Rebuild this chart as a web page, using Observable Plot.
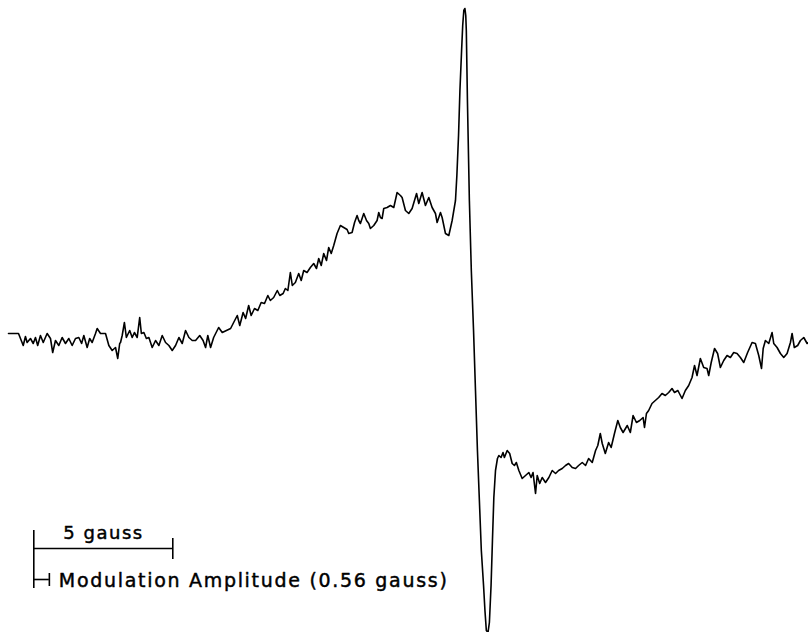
<!DOCTYPE html>
<html>
<head>
<meta charset="utf-8">
<script src="https://cdn.jsdelivr.net/npm/d3@7"></script>
<script src="https://cdn.jsdelivr.net/npm/@observablehq/plot@0.6"></script>
<style>
  html, body { margin: 0; padding: 0; background: #fff; overflow: hidden; }
  #chart svg { display: block; }
</style>
</head>
<body>
<div id="chart"></div>
<script>
// Magnetic field offset (gauss) from the left edge of the sweep
const field = [
  // flat baseline
  0.00, 0.36, 0.53, 0.61, 0.67, 0.79, 0.89, 0.97, 1.05, 1.15,
  1.25, 1.39, 1.51, 1.59, 1.69, 1.81, 1.93, 2.05, 2.17, 2.29,
  2.41, 2.53, 2.63, 2.71, 2.83, 2.92, 3.01, 3.13, 3.19, 3.31,
  3.49, 3.61, 3.73, 3.85, 3.93, 4.00,
  4.03, 4.09, 4.17, 4.24, 4.36, 4.45, 4.53, 4.63, 4.72, 4.78,
  4.87, 4.96, 5.05, 5.17, 5.29, 5.41, 5.53, 5.65, 5.77, 5.89,
  6.01, 6.13, 6.25, 6.37, 6.49, 6.61, 6.73, 6.88, 7.00, 7.09,
  7.17, 7.27, 7.38, 7.56, 7.69, 7.84,
  // broad rise
  7.99, 8.10, 8.23, 8.32, 8.44, 8.53, 8.64, 8.73, 8.85, 8.97,
  9.09, 9.21, 9.33, 9.42, 9.54, 9.67, 9.76, 9.88, 9.96, 10.05,
  10.14, 10.21, 10.32, 10.44, 10.53, 10.62, 10.74, 10.86, 10.98, 11.08,
  11.16, 11.25, 11.34, 11.44, 11.52, 11.61, 11.70, 11.82,
  // broad maximum
  11.94, 12.06, 12.18, 12.24, 12.36, 12.45, 12.54, 12.60, 12.66, 12.78,
  12.88, 12.96, 13.02, 13.14, 13.26, 13.32, 13.38, 13.44, 13.50, 13.62,
  13.74, 13.86, 13.98, 14.10, 14.16, 14.28, 14.40, 14.52, 14.68, 14.76,
  14.88, 15.00, 15.12, 15.24, 15.36, 15.42, 15.54, 15.60, 15.72, 15.84,
  15.96, 16.08,
  // narrow line
  16.13, 16.19, 16.24, 16.30, 16.34, 16.38, 16.42, 16.45, 16.47, 16.51,
  16.58, 16.65, 16.73, 16.80, 16.87, 16.94, 17.01, 17.09, 17.14, 17.19,
  17.25, 17.30, 17.36, 17.41, 17.46, 17.52, 17.59,
  // broad minimum and recovery
  17.64, 17.72, 17.79, 17.84, 17.94, 18.03, 18.12, 18.20, 18.27, 18.36,
  18.48, 18.60, 18.72, 18.80, 18.87, 18.96, 19.02, 19.11, 19.20, 19.32,
  19.44, 19.56, 19.68, 19.79, 19.92, 20.04, 20.15, 20.28, 20.40, 20.51,
  20.64, 20.76, 20.87, 21.00, 21.12, 21.20, 21.29, 21.36, 21.47, 21.59,
  21.68, 21.80, 21.92, 22.01, 22.11, 22.26, 22.37, 22.47, 22.59, 22.71,
  22.83, 22.88, 22.95,
  23.03, 23.15, 23.27, 23.39, 23.51, 23.63, 23.75, 23.87, 23.96, 24.08,
  24.23, 24.35, 24.47, 24.59, 24.68, 24.77, 24.89, 25.01, 25.13, 25.19,
  25.28, 25.40, 25.51, 25.61, 25.73, 25.85, 25.97, 26.09, 26.21, 26.33,
  26.45, 26.59, 26.75, 26.87, 26.99, 27.09, 27.15, 27.23, 27.35, 27.47,
  27.53, 27.65, 27.77, 27.89, 28.01, 28.13, 28.19, 28.27, 28.39, 28.49,
  28.61, 28.73, 28.78
];

// First-derivative EPR signal (arbitrary units)
const signal = [
  7, 7, -5, 4, -2, 2, -3, 3, -5, 5,
  -2, 7, 2, -12, 0, -5, 3, -3, 2, -5,
  2, 3, -3, 5, -7, 2, -2, 7, 12, 7,
  7, -5, -10, -7, -18, -3,
  -2, 5, 18, 3, 10, 3, 8, 3, 23, 7,
  8, 2, 3, -7, 0, -5, 5, -2, -5, -10,
  -5, 3, -3, 10, 3, 0, 0, 5, 0, -7,
  5, -7, 3, 13, 8, 10,
  12, 18, 25, 15, 28, 22, 35, 25, 32, 30,
  38, 37, 45, 40, 43, 50, 45, 47, 52, 50,
  68, 55, 58, 67, 60, 70, 68, 73, 77, 72,
  82, 75, 87, 80, 93, 87, 95, 107,
  115, 113, 111, 107, 108, 118, 125, 120, 117, 127,
  120, 117, 112, 115, 120, 128, 123, 122, 132, 133,
  135, 133, 148, 145, 143, 130, 127, 132, 147, 137,
  148, 135, 143, 133, 127, 118, 128, 123, 107, 105,
  120, 140,
  165, 205, 250, 290, 315, 330, 332, 325, 310, 240,
  140, 70, 10, -50, -110, -160, -210, -245, -270, -290,
  -292, -282, -245, -200, -157, -130, -118,
  -115, -117, -112, -117, -110, -113, -123, -125, -122, -130,
  -138, -135, -132, -137, -132, -153, -135, -143, -137, -142,
  -137, -130, -133, -130, -128, -125, -123, -127, -128, -125,
  -122, -125, -118, -122, -110, -105, -93, -103, -113, -102,
  -107, -93, -80, -87, -92, -85, -92, -75, -82, -80,
  -77, -87, -73,
  -70, -63, -60, -57, -53, -55, -52, -48, -52, -50,
  -58, -50, -45, -37, -25, -35, -18, -27, -28, -35,
  -22, -8, -13, -27, -20, -15, -17, -12, -13, -17,
  -22, -12, -2, -3, -15, -28, -8, 0, -3, 8,
  -3, -7, -13, -17, -13, -2, 7, -7, -5, 0,
  3, -3, -2
];

// Scale-bar annotations
const scaleBarGauss = 5;
const modulationGauss = 0.56;
const scaleLabel = "5 gauss";
const modulationLabel = "Modulation Amplitude (0.56 gauss)";

const trace = field.map((f, i) => ({field: f, signal: signal[i]}));

const barStart = 0.91;      // gauss, left end of both bars
const barY = -208;          // signal units of the 5 gauss bar
const modY = -239;          // signal units of modulation bar

const textStyle = {textAnchor: "start", fontFamily: "DejaVu Sans", fill: "#000", stroke: "#000", strokeWidth: 0.45};

const plot = Plot.plot({
  width: 808,
  height: 632,
  marginLeft: 8,
  marginRight: 0,
  marginTop: 0,
  marginBottom: 0,
  x: {domain: [0, 28.78], axis: null},
  y: {domain: [-292, 340], axis: null},
  style: {background: "#fff"},
  marks: [
    Plot.line(trace, {x: "field", y: "signal", stroke: "#000", strokeWidth: 1.6, strokeLinejoin: "round"}),
    // 5 gauss scale bar
    Plot.ruleX([barStart], {y1: -190, y2: -248, stroke: "#000", strokeWidth: 1.6}),
    Plot.ruleY([barY], {x1: barStart, x2: barStart + scaleBarGauss, stroke: "#000", strokeWidth: 1.6}),
    Plot.ruleX([barStart + scaleBarGauss], {y1: -198, y2: -219, stroke: "#000", strokeWidth: 1.6}),
    // modulation amplitude bar
    Plot.ruleY([modY], {x1: barStart, x2: barStart + modulationGauss, stroke: "#000", strokeWidth: 1.6}),
    Plot.ruleX([barStart + modulationGauss], {y1: -233, y2: -246, stroke: "#000", strokeWidth: 1.6}),
    Plot.text([scaleLabel], {x: 1.97, y: -193, text: d => d, fontSize: 18, ...textStyle}),
    Plot.text([modulationLabel], {x: 1.81, y: -240, text: d => d, fontSize: 19, ...textStyle})
  ]
});

// widen letter spacing like the stencil lettering of the original
d3.select(plot).selectAll("text").each(function() {
  const t = d3.select(this);
  const s = t.text();
  if (s === scaleLabel) t.attr("textLength", 79).attr("lengthAdjust", "spacing");
  if (s === modulationLabel) t.attr("textLength", 388).attr("lengthAdjust", "spacing");
});

document.getElementById("chart").appendChild(plot);
</script>
</body>
</html>
